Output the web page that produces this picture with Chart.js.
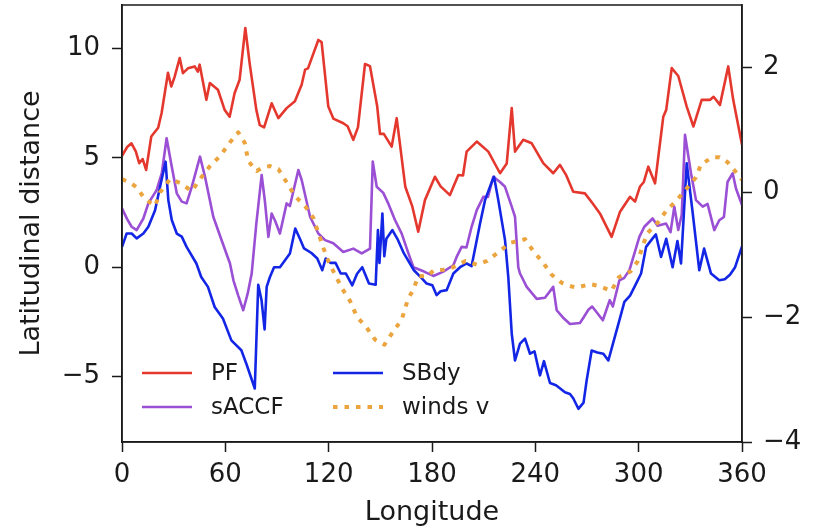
<!DOCTYPE html>
<html>
<head>
<meta charset="utf-8">
<script src="https://cdn.jsdelivr.net/npm/chart.js@4"></script>
<style>
  html, body { margin: 0; padding: 0; background: #fff; }
  #wrap { width: 817px; height: 531px; }
</style>
</head>
<body>
<div id="wrap"><canvas id="fronts"></canvas></div>
<script>
// longitude / latitudinal distance of each front
const pfLon = [0, 3, 5.5, 8, 10, 12, 14, 17, 21, 23, 26.7, 28.6, 30.5, 33.5, 35.4, 38.3, 42.2, 44, 45.1, 49, 51, 55.7, 59.6, 62.5, 65.4, 68.3, 71.6, 74.1, 78, 80, 82.5, 86.9, 90.8, 95.6, 100.4, 104.3, 106.3, 108, 114, 115.9, 119.8, 122.7, 128.5, 131, 134.3, 137, 141.1, 144, 148.2, 149.8, 152, 156.6, 159.5, 164.5, 168.6, 172, 175.9, 181.7, 185, 190.4, 195.3, 198, 200.1, 206, 212.7, 219.5, 223.4, 226.3, 228.2, 233, 237.9, 244.6, 250.4, 254.3, 258, 262, 268.8, 273, 277.5, 284.3, 289.2, 295, 297.9, 300.7, 303, 305.6, 309.5, 314.3, 316, 319.2, 323, 327.9, 331.8, 336.6, 341.5, 343.5, 347.2, 352, 354.9, 360]
const pfLat = [5.1, 5.5, 5.67, 5.3, 4.76, 4.95, 4.45, 5.98, 6.38, 7.06, 8.9, 8.27, 8.7, 9.57, 8.88, 9.1, 9.19, 8.95, 9.27, 7.66, 8.43, 8.12, 7.2, 6.89, 7.97, 8.58, 10.95, 9.34, 7.2, 6.5, 6.4, 7.5, 6.82, 7.28, 7.6, 8.35, 9.04, 9.1, 10.4, 10.3, 7.35, 6.8, 6.59, 6.45, 5.83, 6.4, 9.3, 9.2, 7.35, 6.1, 6.1, 5.52, 6.82, 3.68, 2.77, 1.62, 3.07, 4.14, 3.7, 3.3, 4.22, 4.2, 5.29, 5.75, 5.29, 4.3, 4.75, 7.28, 5.29, 5.83, 5.67, 4.76, 4.3, 4.68, 4.2, 3.45, 3.38, 2.95, 2.46, 1.39, 2.54, 3.22, 3.0, 3.68, 3.9, 4.6, 3.84, 6.89, 7.2, 9.11, 8.75, 7.35, 6.44, 7.66, 7.66, 7.8, 7.43, 9.19, 7.66, 5.6]

const saccfLon = [0, 3, 5.6, 8.5, 12.4, 15.3, 20.1, 23.1, 25.9, 28.9, 31.8, 34.7, 37.5, 40.5, 45.3, 48.2, 53, 58, 62.7, 64.7, 67.5, 70.4, 73, 75.3, 78, 81.1, 83, 85, 86.9, 89, 91.7, 95.6, 97.5, 102.4, 104.3, 109.2, 114, 117.9, 122.7, 128.5, 134.3, 139.2, 144, 145.6, 147.9, 151.7, 154.6, 158.5, 162.4, 166, 169.2, 175.4, 180.8, 186.6, 192.4, 194.3, 197.2, 200, 203, 206, 209.8, 212.5, 215.6, 219.5, 222.4, 226.3, 228.2, 230.1, 231.1, 235, 240.8, 245.6, 250.4, 252.4, 256, 260.1, 265.9, 268, 270.8, 273, 279.2, 283.2, 285, 288.8, 291.5, 294.6, 300.4, 303.3, 308.1, 311, 315.9, 318.5, 320.7, 323, 325, 326.9, 330.4, 333.3, 337.2, 340, 343.9, 346.8, 349.5, 351.6, 354.6, 356.5, 360]
const saccfLat = [2.69, 2.2, 1.85, 1.7, 2.23, 2.92, 3.53, 4.3, 5.9, 4.6, 3.38, 3.0, 2.92, 3.68, 5.06, 4.14, 2.31, 1.2, 0.17, -0.6, -1.3, -1.97, -1.2, -0.29, 2.0, 4.22, 3.0, 1.39, 2.46, 2.1, 1.54, 2.92, 2.8, 4.45, 4.0, 2.31, 1.54, 1.24, 1.1, 0.7, 0.85, 0.63, 0.85, 4.83, 3.68, 3.4, 2.92, 2.16, 1.54, 0.7, 0.0, -0.2, -0.4, -0.2, 0.09, 0.47, 0.93, 0.9, 1.85, 2.61, 3.22, 3.22, 4.14, 3.9, 3.68, 2.77, 2.31, 0.0, -0.29, -0.9, -1.45, -1.4, -0.9, -1.97, -2.3, -2.6, -2.55, -2.3, -1.95, -1.8, -2.43, -1.51, -1.8, -0.6, -0.5, -0.14, 1.39, 1.85, 2.23, 1.9, 2.0, 1.6, 2.77, 1.7, 2.4, 6.06, 4.3, 3.07, 2.77, 2.9, 1.7, 2.15, 2.3, 3.9, 4.3, 3.6, 2.84]

const sbdyLon = [0, 2.7, 5.6, 8.5, 12.4, 15.3, 19.2, 22.1, 25.3, 26.9, 28.9, 31.8, 34.7, 37.5, 43.2, 46, 49.9, 53.8, 58.6, 63.5, 69.3, 72.2, 77.1, 79.1, 81, 82.8, 84, 85.9, 88.3, 91.7, 93.6, 97.5, 100.6, 103.3, 105.7, 110, 113.4, 116.3, 118.3, 121, 124, 127, 130, 133.7, 136.5, 139.5, 143.4, 147.3, 148.6, 149.5, 151.2, 152.3, 153.5, 157, 159.9, 163.7, 169.5, 174, 176.9, 180.2, 182.7, 185, 188.5, 192.4, 196.3, 200.1, 203, 206, 207.9, 210.8, 214.7, 216, 218.5, 222.4, 224.3, 226.3, 228.2, 231.1, 234, 236.9, 239.5, 242.7, 245, 248.5, 252, 257.2, 260.1, 262, 265, 268, 269.8, 272.7, 276, 279.5, 282.4, 285.6, 288.8, 291.7, 295, 298.5, 301.4, 304.3, 308.1, 310, 313, 316, 319.7, 322.5, 324.6, 327.9, 331.4, 335.2, 338, 342, 346.8, 350, 353, 356, 360]
const sbdyLat = [0.93, 1.54, 1.54, 1.32, 1.54, 1.85, 2.61, 3.68, 4.83, 3.07, 2.16, 1.54, 1.4, 0.93, 0.17, -0.45, -0.9, -1.82, -2.35, -3.35, -3.8, -4.42, -5.55, -0.8, -1.5, -2.85, -0.9, -0.45, 0.0, 0.0, 0.2, 0.63, 1.77, 1.3, 0.86, 0.65, 0.4, -0.14, 0.4, 0.2, 0.2, -0.29, -0.29, -0.83, -0.3, 0.0, -0.75, -0.8, 1.7, 0.2, 2.46, 0.5, 1.3, 1.7, 1.3, 0.63, -0.14, -0.5, -0.75, -0.83, -1.28, -1.1, -1.05, -0.29, 0.0, 0.17, 0.05, 1.24, 2.0, 3.07, 3.9, 4.14, 3.07, 1.24, -0.45, -3.04, -4.27, -3.5, -3.27, -3.96, -3.85, -4.95, -4.3, -5.3, -5.4, -5.72, -5.8, -6.0, -6.48, -6.2, -5.18, -3.81, -3.9, -3.96, -4.27, -3.35, -2.43, -1.59, -1.3, -0.75, -0.29, 0.93, 1.32, 1.5, 0.47, 1.3, 0.0, 1.2, 0.17, 4.76, 2.46, -0.14, 0.85, -0.29, -0.6, -0.55, -0.35, 0.0, 0.95]

// meridional wind, right axis
const windLon = [0, 5, 8.5, 13.4, 19.2, 22.1, 27.9, 33.7, 40.5, 45.3, 51.1, 56.9, 62.7, 67.5, 71.3, 73.3, 78.2, 82, 85.9, 90.8, 95.6, 100.4, 106.3, 111.1, 114, 116.9, 119.8, 123.7, 128, 132.4, 136.3, 142.1, 146.9, 152.4, 157.5, 162.4, 166.2, 169.2, 172, 176.9, 181, 186.6, 192.4, 199.5, 206, 212, 219.5, 225.3, 230, 234, 238.8, 244.6, 249.5, 255.3, 260, 264, 271.6, 277, 284.2, 288.5, 295.2, 299.6, 302.3, 305.2, 311, 315.9, 321.7, 327.5, 333.3, 336.2, 343, 347, 351.7, 357.5, 360]
const windV = [0.21, 0.15, 0.08, -0.11, -0.22, 0.0, 0.21, 0.15, 0.02, 0.21, 0.42, 0.58, 0.8, 0.96, 0.79, 0.5, 0.34, 0.4, 0.42, 0.37, 0.16, -0.06, -0.22, -0.41, -0.65, -0.89, -1.1, -1.32, -1.55, -1.74, -1.99, -2.17, -2.36, -2.44, -2.23, -2.04, -1.7, -1.56, -1.34, -1.35, -1.25, -1.24, -1.2, -1.1, -1.16, -1.1, -0.94, -0.81, -0.78, -0.75, -0.94, -1.13, -1.32, -1.45, -1.5, -1.53, -1.47, -1.5, -1.58, -1.36, -1.27, -1.1, -0.86, -0.65, -0.49, -0.3, -0.14, 0.05, 0.24, 0.45, 0.56, 0.56, 0.48, 0.29, 0.2]

const xTicks = [0, 60, 120, 180, 240, 300, 360]
const leftTicks = [-5, 0, 5, 10]
const rightTicks = [-4, -2, 0, 2]

const FONT = 'DejaVu Sans'
const INK = '#1a1a1a'
const colors = { pf: '#e4382e', saccf: '#9a4fd4', sbdy: '#1326e6', wind: '#eba43e' }
const LW = 2.6

const pts = (xs, ys) => xs.map((x, i) => ({ x: x, y: ys[i] }))
const minus = v => v < 0 ? '\u2212' + Math.abs(v) : String(v)

// matplotlib-style legend, 2 columns inside the axes
const legendItems = [
  { label: 'PF', color: colors.pf, col: 0, row: 0 },
  { label: 'sACCF', color: colors.saccf, col: 0, row: 1 },
  { label: 'SBdy', color: colors.sbdy, col: 1, row: 0 },
  { label: 'winds v', color: colors.wind, col: 1, row: 1, dotted: true },
]
const boxLegend = {
  id: 'boxLegend',
  afterDraw(chart) {
    const { ctx, chartArea: a } = chart
    ctx.save()
    ctx.strokeStyle = INK
    ctx.lineWidth = 1.5
    ctx.strokeRect(a.left, a.top, a.right - a.left, a.bottom - a.top)
    ctx.font = '23px ' + FONT
    ctx.fillStyle = INK
    ctx.textBaseline = 'middle'
    legendItems.forEach(it => {
      const x0 = it.col === 0 ? 142 : 333
      const y = it.row === 0 ? 373 : 407
      ctx.beginPath()
      ctx.strokeStyle = it.color
      if (it.dotted) {
        ctx.lineWidth = 4
        ctx.setLineDash([4.5, 7])
      } else {
        ctx.lineWidth = LW
        ctx.setLineDash([])
      }
      ctx.moveTo(x0, y)
      ctx.lineTo(x0 + 50, y)
      ctx.stroke()
      ctx.setLineDash([])
      ctx.fillText(it.label, x0 + 69, y + 1)
    })
    ctx.restore()
  }
}

const tickFont = { family: FONT, size: 26 }
const titleFont = { family: FONT, size: 27 }
// fixed axis boxes so the plot area sits where it does in the figure
const fitY = w => s => { s.width = w; s.paddingTop = 0; s.paddingBottom = 0 }

new Chart(document.getElementById('fronts'), {
  type: 'line',
  data: {
    datasets: [
      { label: 'winds v', data: pts(windLon, windV), yAxisID: 'y1', borderColor: colors.wind, borderWidth: 4, borderDash: [4.5, 7] },
      { label: 'SBdy', data: pts(sbdyLon, sbdyLat), yAxisID: 'y', borderColor: colors.sbdy, borderWidth: LW },
      { label: 'sACCF', data: pts(saccfLon, saccfLat), yAxisID: 'y', borderColor: colors.saccf, borderWidth: LW },
      { label: 'PF', data: pts(pfLon, pfLat), yAxisID: 'y', borderColor: colors.pf, borderWidth: LW },
    ]
  },
  options: {
    responsive: true,
    maintainAspectRatio: false,
    animation: false,
    layout: { padding: { top: 5, left: 0, right: 0, bottom: 0 } },
    elements: { point: { radius: 0 }, line: { tension: 0, fill: false, borderJoinStyle: 'round' } },
    plugins: { legend: { display: false }, tooltip: { enabled: false } },
    scales: {
      x: {
        type: 'linear',
        min: 0,
        max: 360,
        afterBuildTicks: s => { s.ticks = xTicks.map(v => ({ value: v })) },
        afterFit: s => { s.height = 89; s.paddingLeft = 0; s.paddingRight = 0 },
        ticks: { font: tickFont, color: INK, padding: 8, maxRotation: 0 },
        grid: { drawOnChartArea: false, drawTicks: true, tickLength: 10, tickWidth: 1.5, tickColor: INK },
        border: { display: true, color: INK, width: 1.5 },
        title: { display: true, text: 'Longitude', font: titleFont, color: INK, padding: { top: 0, bottom: 2 } }
      },
      y: {
        type: 'linear',
        position: 'left',
        min: -8,
        max: 12,
        afterBuildTicks: s => { s.ticks = leftTicks.map(v => ({ value: v })) },
        afterFit: fitY(122),
        ticks: { font: tickFont, color: INK, padding: 12, callback: v => minus(v) },
        grid: { drawOnChartArea: false, drawTicks: true, tickLength: 10, tickWidth: 1.5, tickColor: INK },
        border: { display: true, color: INK, width: 1.5 },
        title: { display: true, text: 'Latitudinal distance', font: titleFont, color: INK, padding: { top: 16, bottom: 0 } }
      },
      y1: {
        type: 'linear',
        position: 'right',
        min: -4,
        max: 3,
        afterBuildTicks: s => { s.ticks = rightTicks.map(v => ({ value: v })) },
        afterFit: fitY(75),
        ticks: { font: tickFont, color: INK, padding: 11, callback: v => minus(v) },
        grid: { drawOnChartArea: false, drawTicks: true, tickLength: 10, tickWidth: 1.5, tickColor: INK },
        border: { display: true, color: INK, width: 1.5 }
      }
    }
  },
  plugins: [boxLegend]
})
</script>
</body>
</html>
